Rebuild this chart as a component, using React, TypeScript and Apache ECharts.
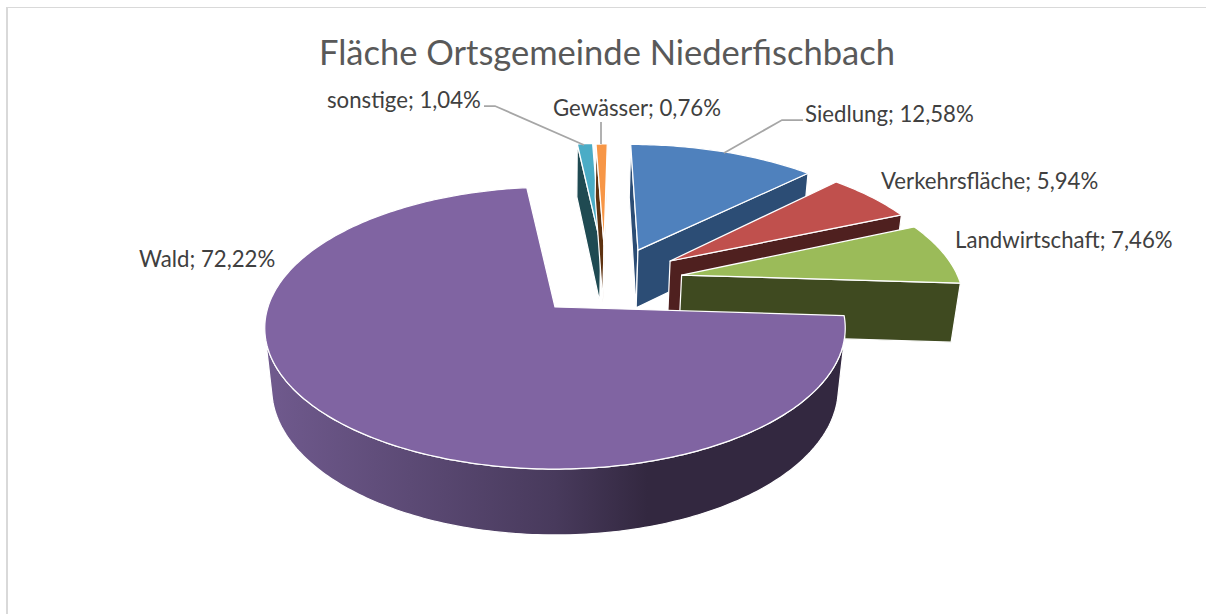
import React, { useEffect, useRef } from "react";
import * as echarts from "echarts";

const titleText = "Fläche Ortsgemeinde Niederfischbach";
const categories = ["Siedlung", "Verkehrsfläche", "Landwirtschaft", "Wald", "sonstige", "Gewässer"];
const shares = [12.58, 5.94, 7.46, 72.22, 1.04, 0.76];

const topColors = ["#4f81bd", "#c0504d", "#9bbb59", "#8064a2", "#4bacc6", "#f79646"];
const wallColors = ["#2c4d75", "#4f201f", "#3f4a20", "#33283f", "#1f4a52", "#5e3210"];
// sideways shift of each slice on the pie's own plane, in pie radii
const explodeX = [0.32, 0.422, 0.452, 0, 0.207, 0.221];
const explodeY = [0.43, 0.345, 0.24, 0, 0.441, 0.435];
const tipX = [-0.012, 0, 0.005, 0, -0.036, -0.038];
const tipY = [0.01, 0.006, 0, 0, 0.044, 0.05];
const paintOrder = [3, 4, 5, 6, 1, 2];
// label anchor (left, middle)
const labelX = [805, 881, 955, 139, 327, 553];
const labelY = [113, 180, 239, 258, 99, 107];
const leaders: (number[][] | null)[] = [
  [[803, 120], [782, 120], [724, 153]],
  null,
  null,
  null,
  [[484, 106], [495, 106], [584, 145]],
  [[601, 122], [601, 144]],
];

const CX = 555, CY = 307, R = 287, A = 137.9, K = 0.149, M = 0.024, H = 61.6;
const FONT = "Lato, Carlito, 'Open Sans', sans-serif";

function project(X: number, Y: number, Z: number): number[] {
  const f = 1 / (1 + K * Y + M * Z);
  return [CX + R * X * f, CY + (-A * Y + H * Z) * f];
}
function area(p: number[][]): number {
  let s = 0;
  for (let i = 0; i < p.length; i++) {
    const a = p[i], b = p[(i + 1) % p.length];
    s += a[0] * b[1] - b[0] * a[1];
  }
  return s;
}

const wallGradient = new echarts.graphic.LinearGradient(0, 0, 1, 0, [
  { offset: 0, color: "#705a8e" },
  { offset: 0.5, color: "#483a5c" },
  { offset: 0.66, color: "#332840" },
  { offset: 1, color: "#332840" },
]);

function renderSlice(params: any, api: any) {
  const i = params.dataIndex;
  const total = shares.reduce((a, b) => a + b, 0);
  let before = 0;
  for (let j = 0; j < i; j++) before += shares[j];
  const t0 = (before / total) * Math.PI * 2;
  const t1 = ((before + Number(api.value(0))) / total) * Math.PI * 2;
  const ex = explodeX[i], ey = explodeY[i];
  const apex = (z: number) => project(ex + tipX[i], ey + tipY[i], z);
  const rim = (t: number, z: number) => project(ex + Math.sin(t), ey + Math.cos(t), z);
  const z2 = paintOrder[i] * 10;
  const children: any[] = [];
  const poly = (points: number[][], fill: any, z: number) => ({
    type: "polygon",
    z2: z,
    shape: { points },
    style: { fill, stroke: "#ffffff", lineWidth: 1.25, lineJoin: "round" },
  });

  const startWall = [apex(0), rim(t0, 0), rim(t0, 1), apex(1)];
  if (area(startWall) < 0) children.push(poly(startWall, wallColors[i], z2));
  const endWall = [apex(0), rim(t1, 0), rim(t1, 1), apex(1)];
  if (area(endWall) > 0) children.push(poly(endWall, wallColors[i], z2));

  const steps = Math.max(8, Math.ceil((t1 - t0) * 60));
  let run: number[] = [];
  const flush = () => {
    if (run.length > 1) {
      const top = run.map((t) => rim(t, 0));
      const bottom = run.map((t) => rim(t, 1)).reverse();
      children.push(poly(top.concat(bottom), i === 3 ? wallGradient : wallColors[i], z2 + 1));
    }
    run = [];
  };
  for (let s = 0; s < steps; s++) {
    const a = t0 + ((t1 - t0) * s) / steps;
    const b = t0 + ((t1 - t0) * (s + 1)) / steps;
    const facing = area([rim(a, 0), rim(b, 0), rim(b, 1), rim(a, 1)]) < 0;
    if (facing) {
      if (!run.length) run.push(a);
      run.push(b);
    } else flush();
  }
  flush();

  const topPts = [apex(0)];
  for (let s = 0; s <= steps; s++) topPts.push(rim(t0 + ((t1 - t0) * s) / steps, 0));
  children.push(poly(topPts, topColors[i], z2 + 2));

  const line = leaders[i];
  if (line) {
    children.push({
      type: "polyline",
      z2: 200,
      shape: { points: line },
      style: { stroke: "#a6a6a6", lineWidth: 1.75, fill: "none" },
    });
  }
  children.push({
    type: "text",
    z2: 201,
    x: labelX[i],
    y: labelY[i],
    style: {
      text: `${categories[i]}; ${Number(api.value(0)).toFixed(2).replace(".", ",")}%`,
      fill: "#404040",
      font: `22.2px ${FONT}`,
      textAlign: "left",
      textVerticalAlign: "middle",
    },
  });
  return { type: "group", children };
}

export default function App() {
  const ref = useRef<HTMLDivElement>(null);
  useEffect(() => {
    document.body.style.margin = "0";
    const chart = echarts.init(ref.current!, null, { renderer: "svg" });
    chart.setOption({
      animation: false,
      backgroundColor: "#ffffff",
      title: {
        text: titleText,
        left: 602,
        top: 46,
        textAlign: "center",
        textVerticalAlign: "middle",
        textStyle: { color: "#595959", fontSize: 34.5, fontWeight: "normal", fontFamily: FONT },
      },
      graphic: [
        { type: "line", shape: { x1: 6, y1: 7.5, x2: 1206, y2: 7.5 }, style: { stroke: "#d9d9d9", lineWidth: 1 } },
        { type: "line", shape: { x1: 7, y1: 7, x2: 7, y2: 614 }, style: { stroke: "#d9d9d9", lineWidth: 2 } },
      ],
      series: [
        {
          type: "custom",
          coordinateSystem: "none",
          silent: true,
          renderItem: renderSlice,
          data: shares.map((v, i) => ({ name: categories[i], value: [v] })),
        },
      ],
    });
    return () => chart.dispose();
  }, []);
  return <div ref={ref} style={{ position: "fixed", left: 0, top: 0, width: 1206, height: 614 }} />;
}
